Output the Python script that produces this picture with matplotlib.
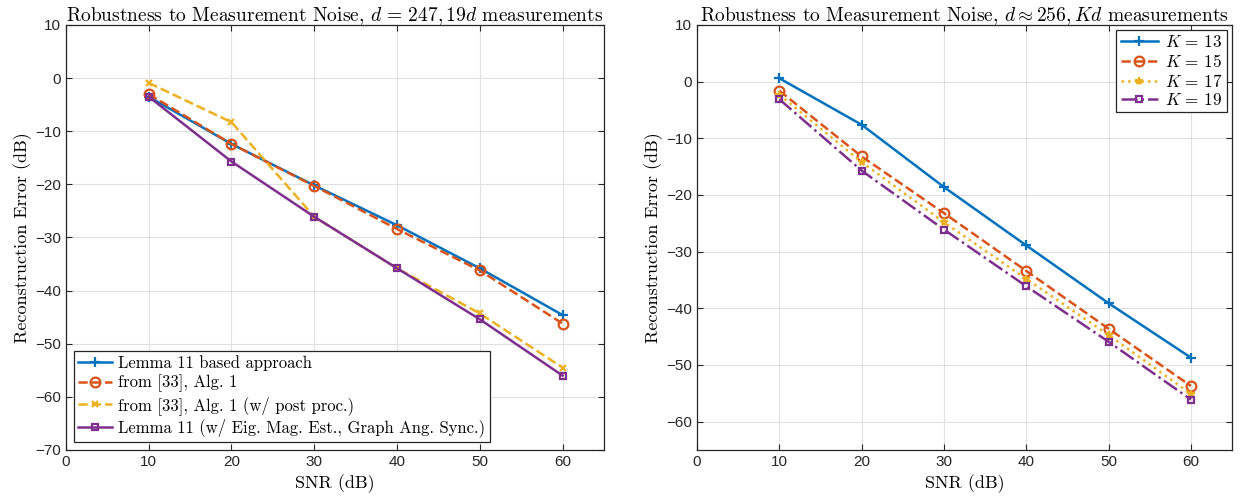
import matplotlib
matplotlib.use('Agg')
import matplotlib.pyplot as plt

plt.rcParams['mathtext.fontset'] = 'cm'
plt.rcParams['font.family'] = ['Liberation Sans', 'DejaVu Sans']

# data
snr = [10, 20, 30, 40, 50, 60]

lemma11 = [-3.5, -12.4, -20.2, -27.7, -35.8, -44.6]
alg1 = [-3.0, -12.4, -20.3, -28.4, -36.2, -46.2]
alg1_post = [-0.9, -8.3, -26.1, -35.8, -44.3, -54.5]
lemma11_eig = [-3.5, -15.7, -26.1, -35.8, -45.4, -56.0]

k13 = [0.6, -7.6, -18.6, -28.9, -39.1, -48.7]
k15 = [-1.6, -13.2, -23.2, -33.4, -43.6, -53.7]
k17 = [-2.3, -14.2, -24.8, -34.8, -44.7, -55.1]
k19 = [-3.1, -15.7, -26.1, -36.1, -45.9, -56.1]

left_labels = ['Lemma 11 based approach',
               'from [33], Alg. 1',
               'from [33], Alg. 1 (w/ post proc.)',
               'Lemma 11 (w/ Eig. Mag. Est., Graph Ang. Sync.)']
right_labels = [r'$K\,=\,13$', r'$K\,=\,15$', r'$K\,=\,17$', r'$K\,=\,19$']

blue, orange, yellow, purple = '#0072BD', '#D95319', '#EDB120', '#7E2F8E'
cm = 'cmr10'

fig = plt.figure(figsize=(12.42, 4.99), dpi=100)
ax1 = fig.add_axes([0.0531, 0.0982, 0.4332, 0.8517])
ax2 = fig.add_axes([0.5612, 0.0982, 0.4308, 0.8517])


def style(ax, ylim, yticks):
    ax.set_xlim(0, 65)
    ax.set_ylim(*ylim)
    ax.set_xticks(range(0, 61, 10))
    ax.set_yticks(yticks)
    ax.grid(True, color='#e0e0e0', linewidth=0.8)
    ax.set_axisbelow(True)
    ax.tick_params(direction='in', top=True, right=True, labelsize=11,
                   colors='#262626', length=4)
    for s in ax.spines.values():
        s.set_color('#262626')
        s.set_linewidth(0.9)
    ax.set_xlabel('SNR (dB)', fontsize=13, family=cm, labelpad=4)
    ax.set_ylabel('Reconstruction Error (dB)', fontsize=13, family=cm, labelpad=2)


lw = 1.8
ax1.plot(snr, lemma11, '-', color=blue, marker='+', ms=7, mew=1.6, lw=lw, label=left_labels[0])
ax1.plot(snr, alg1, '--', color=orange, marker='o', ms=7, mew=1.6, mfc='none', lw=lw, label=left_labels[1])
ax1.plot(snr, alg1_post, '--', color=yellow, marker='x', ms=5, mew=1.6, lw=lw, label=left_labels[2])
ax1.plot(snr, lemma11_eig, '-', color=purple, marker='s', ms=5, mew=1.6, mfc='none', lw=lw, label=left_labels[3])
style(ax1, (-70, 10), range(-70, 11, 10))
ax1.set_title(r'Robustness to Measurement Noise, $d\,=\,247,19d$ measurements',
              fontsize=14, family=cm, pad=3)
leg1 = ax1.legend(loc='lower left', prop=dict(family=cm, size=12), fancybox=False,
                  edgecolor='#262626', framealpha=1, borderaxespad=0.5, handlelength=2.0,
                  handletextpad=0.4, labelspacing=0.22, borderpad=0.25)
leg1.get_frame().set_linewidth(0.9)

ax2.plot(snr, k13, '-', color=blue, marker='+', ms=7, mew=1.6, lw=lw, label=right_labels[0])
ax2.plot(snr, k15, '--', color=orange, marker='o', ms=7, mew=1.6, mfc='none', lw=lw, label=right_labels[1])
ax2.plot(snr, k17, ':', color=yellow, marker='*', ms=6, mew=1.2, lw=lw, label=right_labels[2])
ax2.plot(snr, k19, '-.', color=purple, marker='s', ms=5, mew=1.6, mfc='none', lw=lw, label=right_labels[3])
style(ax2, (-65, 10), range(-60, 11, 10))
ax2.set_title(r'Robustness to Measurement Noise, $d\approx 256,Kd$ measurements',
              fontsize=14, family=cm, pad=3)
leg2 = ax2.legend(loc='upper right', prop=dict(family=cm, size=12.3), fancybox=False,
                  edgecolor='#262626', framealpha=1, borderaxespad=0.3, handlelength=2.2,
                  handletextpad=0.4, labelspacing=0.15, borderpad=0.25)
leg2.get_frame().set_linewidth(0.9)

fig.savefig('out.png', dpi=100)
